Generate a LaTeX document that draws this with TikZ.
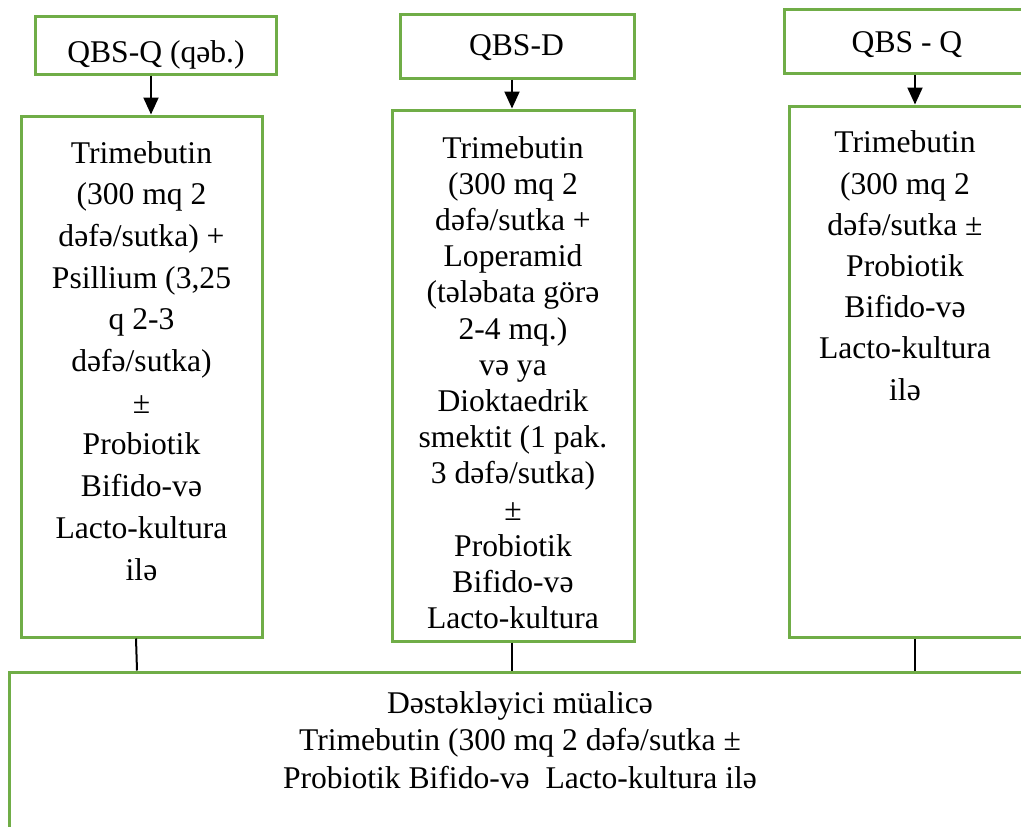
\documentclass[tikz,border=0pt]{standalone}
\usepackage{fontspec}
\setmainfont{Liberation Serif}
\usetikzlibrary{arrows.meta}
\definecolor{boxgreen}{HTML}{70AD47}
\begin{document}
\begin{tikzpicture}[x=1pt,y=-1pt,boxS/.style={shape=rectangle,draw=boxgreen,line width=3pt,inner sep=0pt},textS/.style={anchor=base,align=center,inner sep=0pt,font=\fontsize{31.6}{41.7}\selectfont},arrS/.style={-{Triangle[width=15pt,length=17pt]},line width=2pt},linkS/.style={line width=2pt}]
\useasboundingbox (0,0) rectangle (1021,827);
\clip (0,0) rectangle (1021,827);

\node[boxS,minimum width=241,minimum height=58] (Q1) at (155.5,45) {};
\node[textS] (tQ1) at (156,62) {QBS-Q (qəb.)};
\node[boxS,minimum width=241,minimum height=521] (M1) at (141.5,376.5) {};
\node[textS] (tM1) at (141.5,580) {Trimebutin\\(300 mq 2\\dəfə/sutka) +\\Psillium (3,25\\q 2-3\\dəfə/sutka)\\±\\Probiotik\\Bifido-və\\Lacto-kultura\\ilə};

\node[boxS,minimum width=234,minimum height=64] (Q2) at (517,46) {};
\node[textS] (tQ2) at (516.5,55) {QBS-D};
\node[boxS,minimum width=242,minimum height=531] (M2) at (513,375.5) {};
\node[textS,font=\fontsize{31.6}{36.2}\selectfont] (tM2) at (513,628.6) {Trimebutin\\(300 mq 2\\dəfə/sutka +\\Loperamid\\(tələbata görə\\2-4 mq.)\\və ya\\Dioktaedrik\\smektit (1 pak.\\3 dəfə/sutka)\\±\\Probiotik\\Bifido-və\\Lacto-kultura};

\node[boxS,minimum width=276,minimum height=64] (Q3) at (922,41) {};
\node[textS] (tQ3) at (907,52) {QBS - Q};
\node[boxS,minimum width=271,minimum height=531] (M3) at (924.5,371.5) {};
\node[textS,font=\fontsize{31.6}{41.2}\selectfont] (tM3) at (905,400) {Trimebutin\\(300 mq 2\\dəfə/sutka ±\\Probiotik\\Bifido-və\\Lacto-kultura\\ilə};

\node[boxS,minimum width=1051,minimum height=228] (D) at (534.5,786) {};
\node[textS,font=\fontsize{31.6}{37.5}\selectfont] (tD) at (520,788) {Dəstəkləyici müalicə\\Trimebutin (300 mq 2 dəfə/sutka ±\\Probiotik Bifido-və\ \ Lacto-kultura ilə};

\draw[arrS] ([xshift=-4.5pt]Q1.south) -- ([xshift=9.5pt]M1.north);
\draw[arrS] ([xshift=-5pt]Q2.south) -- ([xshift=-1pt]M2.north);
\draw[arrS] ([xshift=-7pt]Q3.south) -- ([xshift=-9.5pt]M3.north);
\draw[linkS] ([xshift=-5.5pt]M1.south) -- ([xshift=-4.5pt]M1.south |- D.north);
\draw[linkS] ([xshift=-1pt]M2.south) -- ([xshift=-1pt]M2.south |- D.north);
\draw[linkS] ([xshift=-9.5pt]M3.south) -- ([xshift=-9.5pt]M3.south |- D.north);
\end{tikzpicture}
\end{document}
